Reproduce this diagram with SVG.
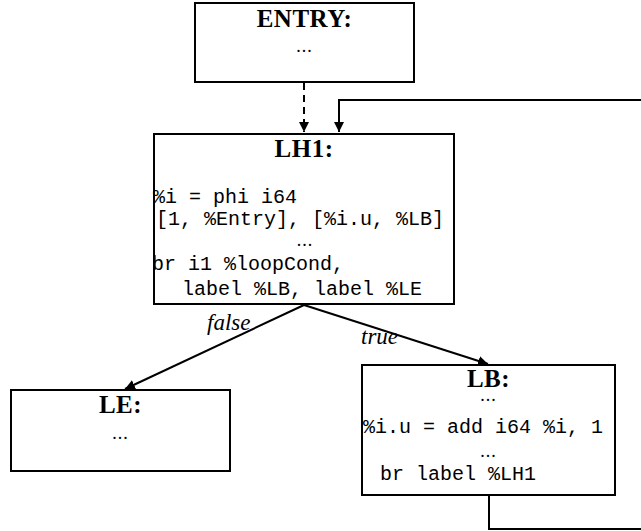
<svg xmlns="http://www.w3.org/2000/svg" width="641" height="531" viewBox="0 0 641 531">
<defs>
<style>
.box{fill:#fff;stroke:#000;stroke-width:2}
.title{font-family:"Liberation Serif",serif;font-weight:bold;font-size:25px;text-anchor:middle;letter-spacing:0.5px}
.dots{font-family:"Liberation Serif",serif;font-size:18px;text-anchor:middle;letter-spacing:1px}
.code{font-family:"Liberation Mono",monospace;font-size:20px}
.lbl{font-family:"Liberation Serif",serif;font-style:italic;font-size:23px}
.edge{fill:none;stroke:#000;stroke-width:2}
</style>
<marker id="arr" viewBox="0 0 10 10" refX="10" refY="5" markerWidth="5" markerHeight="5" orient="auto" markerUnits="strokeWidth">
<path d="M0,0 L10,5 L0,10 z" fill="#000"/>
</marker>
</defs>
<g id="connectors">
<path class="edge" d="M304,83 V132" stroke-dasharray="7,5" marker-end="url(#arr)"/>
<path class="edge" d="M641,100 H339 V132" marker-end="url(#arr)"/>
<path class="edge" d="M304,305 L125,389" marker-end="url(#arr)"/>
<path class="edge" d="M304,305 L488,364" marker-end="url(#arr)"/>
<path class="edge" d="M489,496 V529 H641"/>
<text class="lbl" x="207" y="330">false</text>
<text class="lbl" x="361" y="344">true</text>
</g>
<g id="ENTRY">
<rect class="box" x="195" y="3" width="219" height="79"/>
<text class="title" x="304.5" y="27">ENTRY:</text>
<text class="dots" x="304.5" y="52">...</text>
</g>
<g id="LH1">
<rect class="box" x="154" y="134" width="300" height="170"/>
<text class="title" x="304" y="157">LH1:</text>
<text class="code" x="153" y="203" xml:space="preserve">%i = phi i64</text>
<text class="code" x="156" y="225" xml:space="preserve">[1, %Entry], [%i.u, %LB]</text>
<text class="dots" x="305" y="246">...</text>
<text class="code" x="152" y="270" xml:space="preserve">br i1 %loopCond,</text>
<text class="code" x="182" y="295" xml:space="preserve">label %LB, label %LE</text>
</g>
<g id="LE">
<rect class="box" x="11" y="390" width="219" height="81"/>
<text class="title" x="120.5" y="413">LE:</text>
<text class="dots" x="120.5" y="439">...</text>
</g>
<g id="LB">
<rect class="box" x="362" y="365" width="253" height="130"/>
<text class="title" x="488.5" y="387">LB:</text>
<text class="dots" x="488.5" y="401">...</text>
<text class="code" x="363" y="433" xml:space="preserve">%i.u = add i64 %i, 1</text>
<text class="dots" x="488.5" y="457">...</text>
<text class="code" x="380" y="480" xml:space="preserve">br label %LH1</text>
</g>
</svg>
